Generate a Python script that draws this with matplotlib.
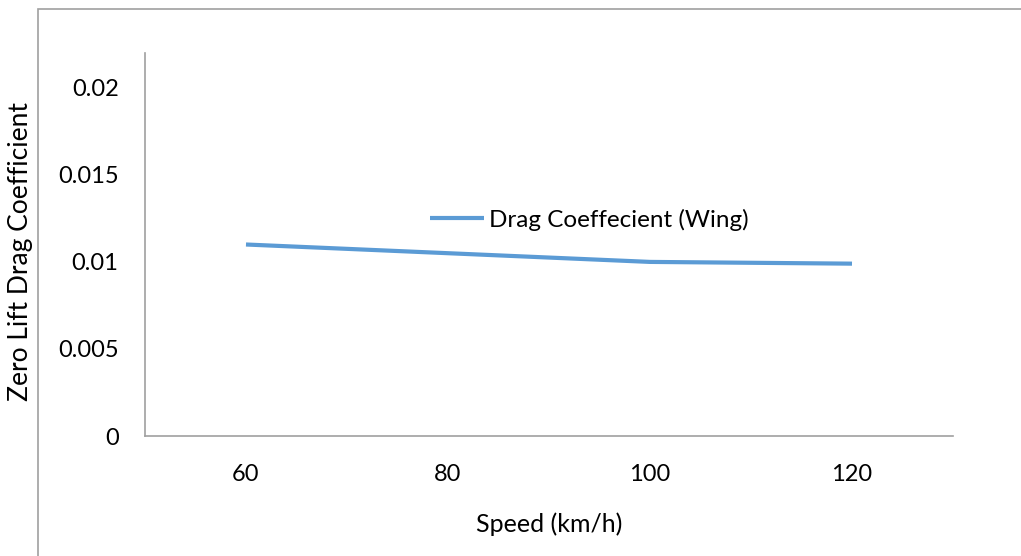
import matplotlib.pyplot as plt
from matplotlib.patches import Rectangle

speeds = ['60', '80', '100', '120']
drag_wing = [0.0110, 0.0105, 0.0100, 0.0099]
y_ticks = [0, 0.005, 0.01, 0.015, 0.02]
y_tick_labels = ['0', '0.005', '0.01', '0.015', '0.02']

plt.rcParams['font.family'] = ['Lato', 'DejaVu Sans']

fig = plt.figure(figsize=(10.21, 5.56), dpi=100)
ax = fig.add_axes([0.142, 0.2158, 0.7914, 0.6889])

# chart area frame
fig.patches.append(Rectangle((0.0372, -0.05), 1.0, 1.033, transform=fig.transFigure,
                             fill=False, edgecolor='#a0a0a0', linewidth=1.2))

x = range(len(speeds))
ax.plot(x, drag_wing, color='#5b9bd5', linewidth=3, solid_capstyle='butt',
        label='Drag Coeffecient (Wing)')

ax.set_xlim(-0.5, len(speeds) - 0.5)
ax.set_ylim(0, 0.022)
ax.set_xticks(list(x))
ax.set_xticklabels(speeds)
ax.set_yticks(y_ticks)
ax.set_yticklabels(y_tick_labels)
ax.tick_params(axis='both', length=0, labelsize=17)
ax.tick_params(axis='x', pad=20)
ax.tick_params(axis='y', pad=19)

for side in ['top', 'right']:
    ax.spines[side].set_visible(False)
for side in ['left', 'bottom']:
    ax.spines[side].set_color('#a0a0a0')
    ax.spines[side].set_linewidth(1.2)

ax.set_xlabel('Speed (km/h)', fontsize=18, labelpad=20)
# y title sits outside the chart frame, on the left edge
fig.text(0.0205, 0.548, 'Zero Lift Drag Coefficient', rotation=90, fontsize=19,
         ha='center', va='center')

ax.legend(loc='center', bbox_to_anchor=(0.55, 0.565), frameon=False, fontsize=17.5,
          handlelength=2.2, handletextpad=0.2)

fig.savefig('out.png', dpi=100)
